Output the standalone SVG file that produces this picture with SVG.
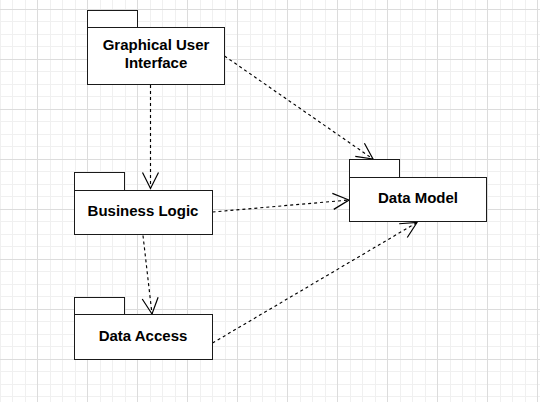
<svg xmlns="http://www.w3.org/2000/svg" width="540" height="402" viewBox="0 0 540 402">
  <defs>
    <pattern id="grid" patternUnits="userSpaceOnUse" x="37" y="9" width="50" height="50">
      <rect x="0" y="0" width="50" height="50" fill="#ffffff"/>
      <rect x="13" y="0" width="1" height="50" fill="#f0f0f0"/>
      <rect x="25" y="0" width="1" height="50" fill="#f0f0f0"/>
      <rect x="38" y="0" width="1" height="50" fill="#f0f0f0"/>
      <rect x="0" y="12" width="50" height="1" fill="#f0f0f0"/>
      <rect x="0" y="25" width="50" height="1" fill="#f0f0f0"/>
      <rect x="0" y="37" width="50" height="1" fill="#f0f0f0"/>
      <rect x="0" y="0" width="1" height="50" fill="#dcdcdc"/>
      <rect x="0" y="0" width="50" height="1" fill="#dcdcdc"/>
    </pattern>
    <marker id="open" markerUnits="userSpaceOnUse" viewBox="-18 -10 20 20" refX="0" refY="0" markerWidth="20" markerHeight="20" orient="auto">
      <path d="M-16,-8 L0,0 L-16,8" fill="none" stroke="#000" stroke-width="1.2"/>
    </marker>
  </defs>
  <style>
    .pkg { fill: #ffffff; stroke: #1a1a1a; stroke-width: 1; }
    .lbl { font-family: "Liberation Sans", Arial, Helvetica, sans-serif; font-weight: bold; font-size: 15px; fill: #000; text-anchor: middle; }
    .conn { fill: none; stroke: #000; stroke-width: 1.15; stroke-dasharray: 3 3; marker-end: url(#open); }
  </style>
  <rect x="0" y="0" width="540" height="402" fill="url(#grid)"/>

  <g id="connectors">
    <path class="conn" d="M150.5,85 L150.5,188.5"/>
    <path class="conn" d="M224.5,56 L373,159"/>
    <path class="conn" d="M212.5,212 L349,200"/>
    <path class="conn" d="M143,235.5 L152,314"/>
    <path class="conn" d="M212.5,343 L417,222.5"/>
  </g>

  <g id="gui">
    <rect class="pkg" x="87.5" y="10.5" width="50" height="17"/>
    <rect class="pkg" x="87.5" y="27.5" width="137" height="57"/>
    <text class="lbl" x="156" y="49.5">Graphical User</text>
    <text class="lbl" x="156" y="67.8">Interface</text>
  </g>

  <g id="business-logic">
    <rect class="pkg" x="74.5" y="172.5" width="50" height="18"/>
    <rect class="pkg" x="74.5" y="190.5" width="138" height="44"/>
    <text class="lbl" x="143" y="216">Business Logic</text>
  </g>

  <g id="data-access">
    <rect class="pkg" x="74.5" y="297.5" width="50" height="17"/>
    <rect class="pkg" x="74.5" y="314.5" width="138" height="45"/>
    <text class="lbl" x="143" y="341">Data Access</text>
  </g>

  <g id="data-model">
    <rect class="pkg" x="349.5" y="159.5" width="50" height="18"/>
    <rect class="pkg" x="349.5" y="177.5" width="137" height="44"/>
    <text class="lbl" x="418" y="202.5">Data Model</text>
  </g>
</svg>
